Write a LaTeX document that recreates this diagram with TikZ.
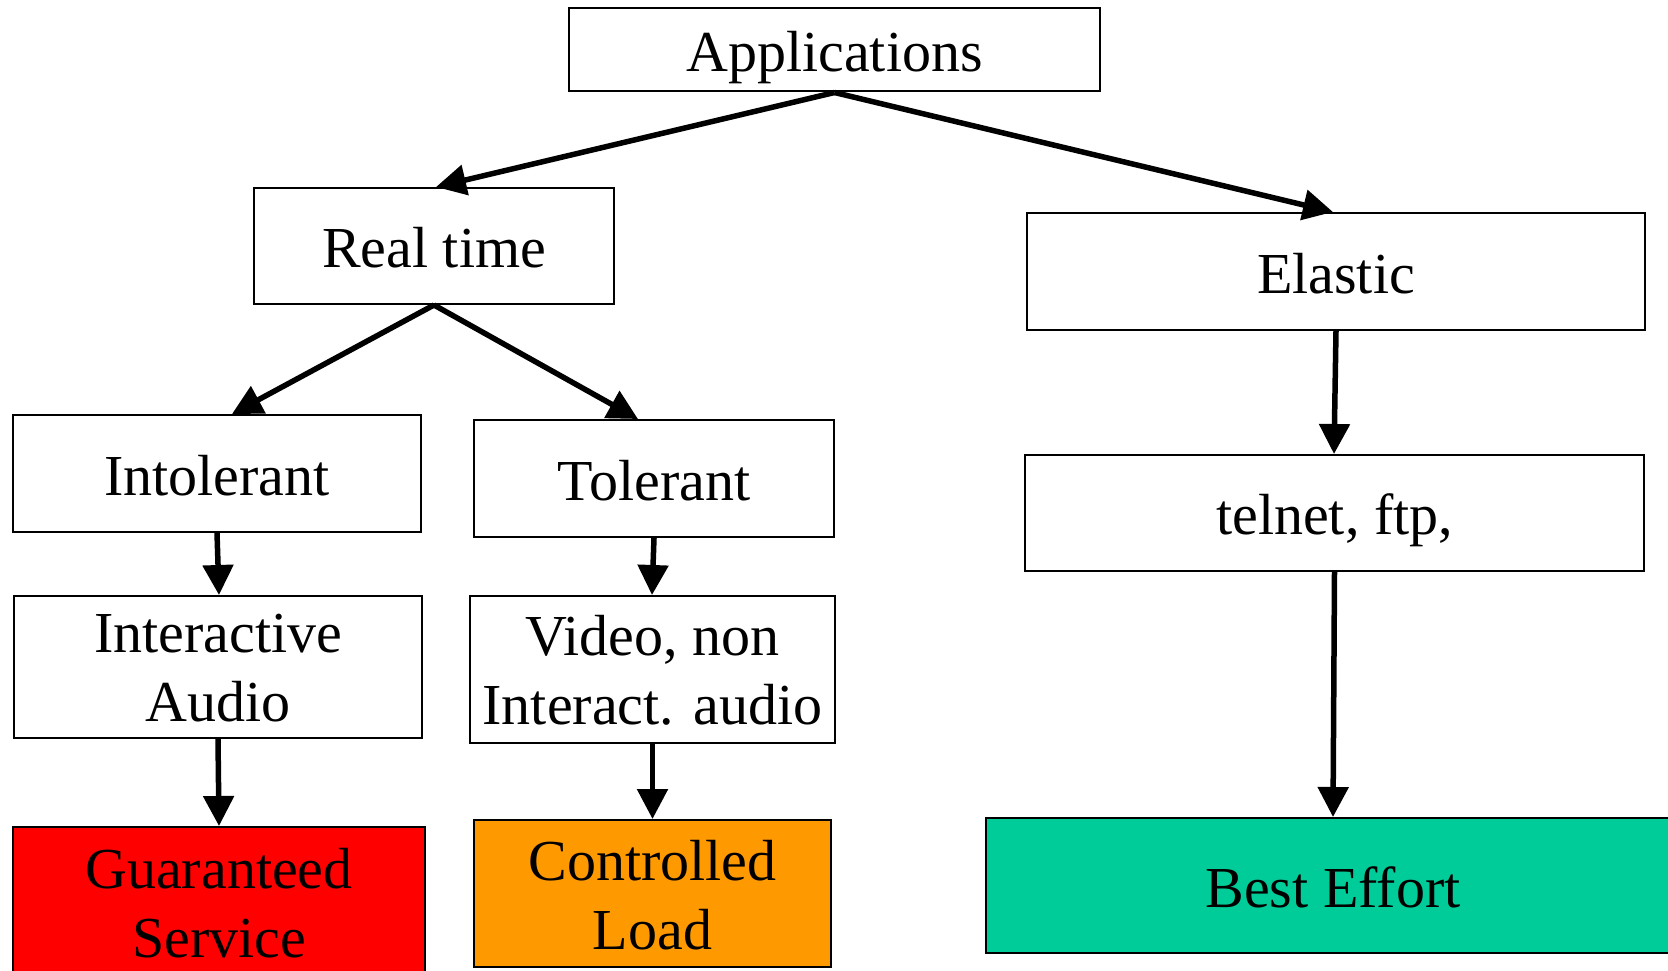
\documentclass[tikz,border=0pt]{standalone}
\usepackage{fontspec}
\setmainfont{Liberation Serif}
\usetikzlibrary{arrows.meta,calc}
\definecolor{gsred}{HTML}{FF0000}
\definecolor{clorange}{HTML}{FF9900}
\definecolor{begreen}{HTML}{00CC99}
\tikzset{
  box/.style={draw=black, line width=2pt, inner sep=0pt, align=center,
    font=\fontsize{58}{69}\selectfont, text height=55pt, text depth=12pt},
  caption/.style={inner sep=0pt, align=center, anchor=base,
    font=\fontsize{58}{69}\selectfont},
  flow/.style={line width=5.5pt, -{Triangle[length=30pt,width=30pt]}},
}
\begin{document}
\begin{tikzpicture}[x=1pt,y=-1pt]
\clip (0,0) rectangle (1668,971);
\fill[white] (0,0) rectangle (1668,971);

% single-line boxes
\node[box, minimum width=531pt, minimum height=83pt] (app) at (834.5,50) {Applications};
\node[box, minimum width=360pt, minimum height=116pt] (rt) at (434,246) {Real time};
\node[box, minimum width=618pt, minimum height=117pt] (el) at (1336,271.5) {Elastic};
\node[box, minimum width=408pt, minimum height=117pt] (intol) at (217,473.5) {Intolerant};
\node[box, minimum width=360pt, minimum height=117pt] (tol) at (654,478.5) {Tolerant};
\node[box, minimum width=619pt, minimum height=116pt] (tel) at (1334.5,513) {telnet, ftp,};

% two-line boxes: frame first, then the text set on its last baseline
\node[box, minimum width=408pt, minimum height=142pt] (ia) at (218,667) {};
\node[caption] at (218,721) {Interactive\\Audio};
\node[box, minimum width=365pt, minimum height=147pt] (vid) at (652.5,669.5) {};
\node[caption] at (652.5,724) {Video, non\\Interact. audio};

% service classes
\node[box, fill=gsred, minimum width=412pt, minimum height=156pt] (gs) at (219,905) {};
\node[caption] at (219,957) {Guaranteed\\Service};
\node[box, fill=clorange, minimum width=357pt, minimum height=147pt] (cl) at (652.5,893.5) {};
\node[caption] at (652.5,949) {Controlled\\Load};
\node[box, fill=begreen, minimum width=700pt, minimum height=135pt] (be) at (1336,885.5) {};
\node[caption] at (1333,907) {Best Effort};

% connectors
\draw[flow] (app.south) -- ($(rt.north)+(2,0)$);
\draw[flow] (app.south) -- ($(el.north)+(-3,0)$);
\draw[flow] (rt.south) -- ($(intol.north)+(15,0)$);
\draw[flow] (rt.south) -- ($(tol.north)+(-16,0)$);
\draw[flow] (intol.south) -- ($(ia.north)+(1,0)$);
\draw[flow] (tol.south) -- ($(vid.north)+(-0.5,0)$);
\draw[flow] (ia.south) -- (gs.north);
\draw[flow] (vid.south) -- (cl.north);
\draw[flow] (el.south) -- ($(tel.north)+(-0.5,0)$);
\draw[flow] (tel.south) -- ($(be.north)+(-3,0)$);
\end{tikzpicture}
\end{document}
